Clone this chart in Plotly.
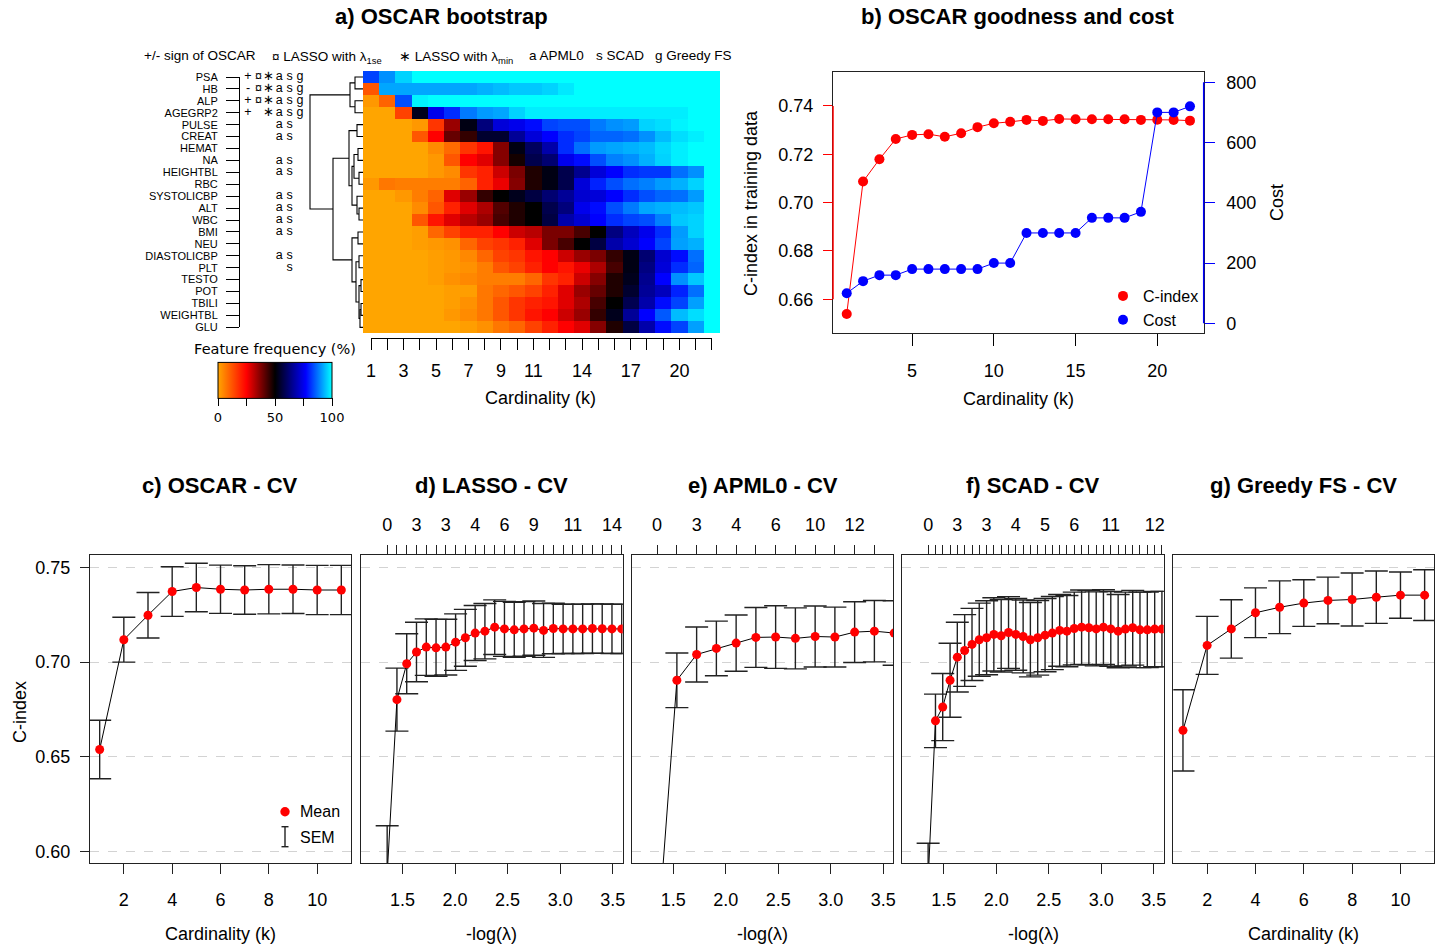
import plotly.graph_objects as go

W, H = 1442, 947
FONT = "Liberation Sans, Arial, Helvetica, sans-serif"

# ---------------- data: panel a ----------------
variables = ["PSA", "HB", "ALP", "AGEGRP2", "PULSE", "CREAT", "HEMAT", "NA",
             "HEIGHTBL", "RBC", "SYSTOLICBP", "ALT", "WBC", "BMI", "NEU",
             "DIASTOLICBP", "PLT", "TESTO", "POT", "TBILI", "WEIGHTBL", "GLU"]
cardinality = [1, 2, 3, 4, 5, 6, 7, 8, 9, 10, 11, 12, 13, 14, 15, 16, 17, 18, 19, 20, 21, 22]
heat_k_labels = ["1", "", "3", "", "5", "", "7", "", "9", "", "11", "", "", "14", "", "",
                 "17", "", "", "20", "", ""]

feature_freq = [
    [83, 90, 96, 100, 100, 100, 100, 100, 100, 100, 100, 100, 100, 100, 100, 100, 100, 100, 100, 100, 100, 100],
    [12, 92, 92, 92, 92, 92, 92, 93, 94, 95, 95, 96, 98, 100, 100, 100, 100, 100, 100, 100, 100, 100],
    [2, 10, 84, 99, 100, 100, 100, 100, 100, 100, 100, 100, 100, 100, 100, 100, 100, 100, 100, 100, 100, 100],
    [0, 0, 15, 53, 75, 81, 88, 91, 92, 96, 98.5, 98.5, 98.5, 98.5, 98.5, 98.5, 98.5, 98.5, 98.5, 98.5, 100, 100],
    [0, 0, 0, 2, 17, 35, 52, 63, 73, 75, 78, 83, 84, 84, 88, 90, 91, 96, 97, 99, 100, 100],
    [0, 0, 0, 12, 25, 40, 45, 55, 55, 66, 73, 77, 81, 83, 86, 86, 87, 90, 94, 97, 98.6, 100],
    [0, 0, 0, 0, 4, 9, 17, 22, 37, 52, 60, 68, 81, 87, 91, 92, 93, 94, 96.5, 98.6, 100, 100],
    [0, 0, 0, 0, 2, 12, 25, 28, 37, 48, 58, 62, 75, 78, 84, 88.5, 90, 93, 96, 98.6, 100, 100],
    [0, 0, 0, 0, 2, 4, 17, 20, 30, 38, 47, 52, 58, 65, 73, 77, 81, 82, 82, 87, 90, 100],
    [2, 7, 6, 6, 6, 6, 10, 20, 27, 37, 47, 52, 58, 73, 80, 84, 87, 88.5, 91, 93, 96, 100],
    [0, 0, 2, 6, 10, 28, 35, 45, 50, 53, 57, 62, 66, 72, 73, 77, 81, 84, 86, 87, 91, 100],
    [0, 0, 0, 4, 12, 20, 28, 33, 42, 47, 50, 58, 63, 75, 78, 84, 88, 92, 93, 94, 95, 100],
    [0, 0, 0, 12, 22, 28, 32, 35, 43, 47, 50, 57, 68, 72, 77, 81, 83, 84, 88.5, 95, 96, 100],
    [0, 0, 0, 1, 9.5, 15, 20, 20, 25, 30, 32, 38, 38, 43, 50, 63.5, 70, 75, 81, 91, 96, 100],
    [0, 0, 0, 1, 2, 3, 9.5, 15, 17, 20, 28, 38, 43, 50, 57, 68, 72, 77, 83, 91.4, 93, 100],
    [0, 0, 0, 0, 1, 2, 4.4, 9.5, 15, 17, 22, 25, 30, 35, 38, 45, 52, 62, 72, 78, 87, 100],
    [0, 0, 0, 0, 1, 2, 3, 6, 12, 15, 20, 25, 22, 27, 33, 43, 52, 63.5, 73, 81, 86, 100],
    [0, 0, 0, 0, 1, 3, 4.4, 6, 6, 6, 9.5, 17, 20, 30, 37, 47, 53, 65, 77, 90, 95, 100],
    [0, 0, 0, 0, 0, 1, 1, 7, 9.5, 12, 15, 20, 28, 35, 40, 47, 55, 66, 70, 80, 87, 100],
    [0, 0, 0, 0, 0, 1, 3, 7, 12, 17, 20, 22, 28, 33, 43, 50, 58.5, 68, 78, 83, 91.4, 100],
    [0, 0, 0, 0, 0, 2, 4, 7, 12, 17, 22, 25, 30, 35, 45, 53, 66, 77, 85, 94, 97, 100],
    [0, 0, 0, 0, 0, 0, 1, 3, 7, 9.5, 15, 20, 25, 28, 37, 47, 57, 68, 78, 83, 91.4, 100],
]

# hierarchical clustering of the rows (R hclust style: negative = leaf, positive = earlier merge)
dendro_merge = [(-1, -2), (-3, -4), (1, 2), (-5, -6), (-7, -8), (-9, -10), (5, 6),
                (-12, -13), (-11, 8), (7, 9), (4, 10), (-14, -15), (-16, -17),
                (-18, -19), (-20, -21), (15, -22), (14, 16), (13, 17), (12, 18),
                (11, 19), (3, 20)]
dendro_height = [8, 8, 13, 6, 5, 4, 9, 4, 6, 11, 14, 5, 4, 2, 2, 3, 4, 7, 11, 30, 53]

oscar_sign = {"PSA": "+", "HB": "-", "ALP": "+", "AGEGRP2": "+"}
lasso_1se = ["PSA", "HB", "ALP"]
lasso_min = ["PSA", "HB", "ALP", "AGEGRP2"]
apml0 = ["PSA", "HB", "ALP", "AGEGRP2", "PULSE", "CREAT", "NA", "HEIGHTBL",
         "SYSTOLICBP", "ALT", "WBC", "BMI", "DIASTOLICBP"]
scad = ["PSA", "HB", "ALP", "AGEGRP2", "PULSE", "CREAT", "NA", "HEIGHTBL",
        "SYSTOLICBP", "ALT", "WBC", "BMI", "DIASTOLICBP", "PLT"]
greedy_fs = ["PSA", "HB", "ALP", "AGEGRP2"]

# ---------------- data: panel b ----------------
b_cindex = [0.6539, 0.7087, 0.7179, 0.7263, 0.7280, 0.7283, 0.7272, 0.7287, 0.7312, 0.7328,
            0.7334, 0.7342, 0.7338, 0.7346, 0.7345, 0.7345, 0.7345, 0.7345, 0.7342, 0.7343,
            0.7342, 0.7339]
b_cost = [100, 140, 160, 160, 180, 180, 180, 180, 180, 200, 200, 300, 300, 300, 300,
          350, 350, 350, 370, 700, 700, 720]

# ---------------- data: panels c-g ----------------
c_k = [1, 2, 3, 4, 5, 6, 7, 8, 9, 10, 11]
c_mean = [0.6539, 0.7118, 0.7247, 0.7372, 0.7393, 0.7384, 0.7380, 0.7384, 0.7384, 0.7380, 0.7380]
c_sem = [0.0154, 0.0118, 0.0120, 0.0131, 0.0128, 0.0127, 0.0128, 0.0130, 0.0128, 0.0130, 0.0130]

d_lambda = [1.354, 1.447, 1.540, 1.633, 1.726, 1.819, 1.912, 2.005, 2.098, 2.191, 2.284,
            2.377, 2.470, 2.563, 2.656, 2.749, 2.842, 2.935, 3.028, 3.121, 3.214, 3.307,
            3.400, 3.493, 3.586]
d_mean = [0.588, 0.6802, 0.6991, 0.7053, 0.7079, 0.7075, 0.7079, 0.7105, 0.7128, 0.7153,
          0.7163, 0.7184, 0.7175, 0.7170, 0.7175, 0.7179, 0.7167, 0.7177, 0.7175, 0.7175,
          0.7175, 0.7177, 0.7176, 0.7175, 0.7175]
d_sem = [0.0257, 0.0166, 0.0158, 0.0157, 0.0149, 0.0150, 0.0147, 0.0149, 0.0150, 0.0145,
         0.0146, 0.0144, 0.0145, 0.0145, 0.0144, 0.0143, 0.0142, 0.0133, 0.0130, 0.0130,
         0.0130, 0.0130, 0.0130, 0.0130, 0.0130]
d_top_labels = ["0", "", "", "3", "", "", "3", "", "", "4", "", "", "6", "", "", "9",
                "", "", "", "11", "", "", "", "14", ""]

e_lambda = [1.347, 1.535, 1.723, 1.911, 2.099, 2.287, 2.475, 2.663, 2.851, 3.039, 3.227,
            3.415, 3.603]
e_mean = [0.551, 0.6904, 0.7040, 0.7072, 0.7100, 0.7130, 0.7132, 0.7125, 0.7135, 0.7132,
          0.7158, 0.7163, 0.7153]
e_sem = [0.035, 0.0144, 0.0145, 0.0144, 0.0148, 0.0158, 0.0165, 0.0161, 0.0161, 0.0158,
         0.0160, 0.0162, 0.0170]
e_top_labels = ["0", "", "3", "", "4", "", "6", "", "10", "", "12", "", ""]

f_lambda = [1.351, 1.421, 1.490, 1.560, 1.629, 1.699, 1.769, 1.838, 1.908, 1.977, 2.047,
            2.117, 2.186, 2.256, 2.325, 2.395, 2.465, 2.534, 2.604, 2.673, 2.743, 2.813,
            2.882, 2.952, 3.021, 3.091, 3.161, 3.230, 3.300, 3.369, 3.439, 3.509, 3.578]
f_mean = [0.585, 0.6690, 0.6763, 0.6904, 0.7026, 0.7061, 0.7093, 0.7118, 0.7128, 0.7146,
          0.7139, 0.7156, 0.7146, 0.7135, 0.7118, 0.7128, 0.7142, 0.7153, 0.7167, 0.7163,
          0.7177, 0.7184, 0.7181, 0.7175, 0.7184, 0.7175, 0.7163, 0.7174, 0.7181, 0.7170,
          0.7170, 0.7174, 0.7174]
f_sem = [0.0195, 0.0141, 0.0177, 0.0195, 0.0184, 0.0189, 0.0190, 0.0193, 0.0195, 0.0193,
         0.0191, 0.0189, 0.0189, 0.0192, 0.0196, 0.0197, 0.0193, 0.0193, 0.0189, 0.0188,
         0.0192, 0.0196, 0.0196, 0.0195, 0.0197, 0.0197, 0.0193, 0.0195, 0.0197, 0.0199,
         0.0199, 0.0199, 0.0199]
f_top_labels = ["0", "", "", "", "3", "", "", "", "3", "", "", "", "4", "", "", "", "5",
                "", "", "", "6", "", "", "", "", "11", "", "", "", "", "", "12", ""]

g_k = [1, 2, 3, 4, 5, 6, 7, 8, 9, 10, 11]
g_mean = [0.6640, 0.7088, 0.7175, 0.7260, 0.7289, 0.7311, 0.7325, 0.7330, 0.7342, 0.7353, 0.7353]
g_sem = [0.0214, 0.0153, 0.0154, 0.0131, 0.0139, 0.0123, 0.0123, 0.0140, 0.0138, 0.0122, 0.0134]

cv_yticks = [0.60, 0.65, 0.70, 0.75]
lambda_ticks = [1.5, 2.0, 2.5, 3.0, 3.5]
k_ticks_cv = [2, 4, 6, 8, 10]

# ---------------- helpers ----------------
def dx(a, b):
    return [a / W, b / W]

def dy(top, bottom):
    return [1 - bottom / H, 1 - top / H]

def px(x):
    return x / W

def py(y):
    return 1 - y / H

HID = dict(visible=False, showgrid=False, zeroline=False, fixedrange=True)

def ann(text, x, y, size=18, xanchor="center", angle=0, bold=False, family=FONT):
    return dict(text=("<b>%s</b>" % text) if bold else text, x=px(x), y=py(y),
                xref="paper", yref="paper", showarrow=False, xanchor=xanchor,
                yanchor="middle", textangle=angle, font=dict(size=size, color="black", family=family))

fig = go.Figure()

# ---------------- panel a: heatmap ----------------
colorscale = [[0.0, "#FFA500"], [0.25, "#FF0000"], [0.5, "#000000"], [0.77, "#0000FF"], [1.0, "#00FFFF"]]
fig.add_trace(go.Heatmap(
    z=feature_freq, x=cardinality, y=list(range(len(variables))),
    colorscale=colorscale, zmin=0, zmax=100, xaxis="x", yaxis="y", hoverinfo="skip",
    colorbar=dict(orientation="h", x=px(275), xanchor="center", y=py(426), yanchor="bottom",
                  len=114, lenmode="pixels", thickness=36, thicknessmode="pixels",
                  outlinewidth=1, outlinecolor="black", xpad=0, ypad=0,
                  ticks="outside", ticklen=8, tickcolor="black",
                  tickvals=[0, 25, 50, 75, 100], ticktext=["0", "", "50", "", "100"],
                  tickfont=dict(size=13, family="DejaVu Sans", color="black"),
                  title=dict(text="Feature frequency (%)", side="top",
                             font=dict(size=14.5, family="DejaVu Sans", color="black"))),
))
# carrier for the separate cardinality axis under the heatmap
fig.add_trace(go.Scatter(x=cardinality, y=[0.5 for _ in cardinality], mode="markers",
                         xaxis="x2", yaxis="y2", marker=dict(opacity=0, size=1),
                         hoverinfo="skip", showlegend=False))

# dendrogram computed from merge table
pos, hgt = {}, {}
dxs, dys = [], []
for i, ((a, b), h) in enumerate(zip(dendro_merge, dendro_height), start=1):
    def get(c):
        return (-c - 1, 0.0) if c < 0 else (pos[c], hgt[c])
    ya, ha = get(a)
    yb, hb = get(b)
    dxs += [ha, h, h, hb, None]
    dys += [ya, ya, yb, yb, None]
    pos[i] = (ya + yb) / 2.0
    hgt[i] = h
fig.add_trace(go.Scatter(x=dxs, y=dys, mode="lines", line=dict(color="black", width=1.1),
                         xaxis="x3", yaxis="y3", hoverinfo="skip", showlegend=False))

# method selection symbols
sym_x, sym_y, sym_t = [], [], []
for i, v in enumerate(variables):
    cols = [oscar_sign.get(v, ""), "¤" if v in lasso_1se else "", "∗" if v in lasso_min else "",
            "a" if v in apml0 else "", "s" if v in scad else "", "g" if v in greedy_fs else ""]
    for j, s in enumerate(cols):
        if s:
            sym_x.append(j)
            sym_y.append(i)
            sym_t.append(s)
fig.add_trace(go.Scatter(x=sym_x, y=sym_y, text=sym_t, mode="text", xaxis="x4", yaxis="y4",
                         textfont=dict(size=12.5, color="black", family=FONT), cliponaxis=False,
                         hoverinfo="skip", showlegend=False))

# ---------------- panel b ----------------
fig.add_trace(go.Scatter(x=cardinality, y=b_cindex, mode="lines+markers", xaxis="x5", yaxis="y5",
                         line=dict(color="red", width=1), marker=dict(color="red", size=10),
                         showlegend=False, hoverinfo="skip"))
fig.add_trace(go.Scatter(x=cardinality, y=b_cost, mode="lines+markers", xaxis="x5", yaxis="y6",
                         line=dict(color="blue", width=1), marker=dict(color="blue", size=10),
                         showlegend=False, hoverinfo="skip"))
fig.add_trace(go.Scatter(x=[None], y=[None], mode="markers", name="C-index", xaxis="x5", yaxis="y5",
                         marker=dict(color="red", size=10), showlegend=True))
fig.add_trace(go.Scatter(x=[None], y=[None], mode="markers", name="Cost", xaxis="x5", yaxis="y5",
                         marker=dict(color="blue", size=10), showlegend=True))

# ---------------- panels c-g ----------------
def cv_trace(x, mean, sem, xa, ya):
    return go.Scatter(x=x, y=mean, mode="lines+markers", xaxis=xa, yaxis=ya,
                      line=dict(color="black", width=1),
                      marker=dict(color="red", size=9),
                      error_y=dict(type="data", array=sem, visible=True, color="#222222",
                                   thickness=1.4, width=11.5),
                      showlegend=False, hoverinfo="skip", cliponaxis=True)

fig.add_trace(cv_trace(c_k, c_mean, c_sem, "x6", "y7"))
fig.add_trace(cv_trace(d_lambda, d_mean, d_sem, "x7", "y8"))
fig.add_trace(cv_trace(e_lambda, e_mean, e_sem, "x8", "y9"))
fig.add_trace(cv_trace(f_lambda, f_mean, f_sem, "x9", "y10"))
fig.add_trace(cv_trace(g_k, g_mean, g_sem, "x10", "y11"))
# invisible carriers for the top (number of selected variables) axes
for lam, mean, xa, ya in [(d_lambda, d_mean, "x11", "y8"), (e_lambda, e_mean, "x12", "y9"),
                          (f_lambda, f_mean, "x13", "y10")]:
    fig.add_trace(go.Scatter(x=lam, y=mean, mode="markers", xaxis=xa, yaxis=ya,
                             marker=dict(opacity=0, size=1), hoverinfo="skip", showlegend=False))

# ---------------- layout ----------------
TF = dict(size=18, color="black", family=FONT)
LBOX = dict(showline=True, mirror=True, linecolor="#222222", linewidth=1)

layout = dict(
    width=W, height=H, autosize=False, template="none",
    margin=dict(l=0, r=0, t=0, b=0, pad=0),
    paper_bgcolor="white", plot_bgcolor="rgba(0,0,0,0)",
    font=dict(family=FONT, size=14, color="black"),
    showlegend=True,
    legend=dict(x=px(1103), y=py(279), xanchor="left", yanchor="top",
                bgcolor="rgba(0,0,0,0)", font=dict(size=16, color="black", family=FONT),
                itemwidth=30, tracegroupgap=0),
    # heatmap
    xaxis=dict(domain=dx(363, 720), range=[0.5, 22.5], anchor="y", **HID),
    yaxis=dict(domain=dy(71, 333.3), range=[21.5, -0.5], anchor="x", **HID),
    xaxis2=dict(domain=dx(371.1, 711.9), range=[1, 22], anchor="y2", showline=True,
                linecolor="black", linewidth=1, ticks="outside", ticklen=11, tickcolor="black",
                tickvals=cardinality, ticktext=heat_k_labels, tickfont=TF, ticklabelstandoff=5,
                showgrid=False, zeroline=False, automargin=False, fixedrange=True),
    yaxis2=dict(domain=dy(334.5, 338.3), range=[0, 1], anchor="x2", **HID),
    # dendrogram
    xaxis3=dict(domain=dx(305, 363), range=[58, 0], anchor="y3", **HID),
    yaxis3=dict(domain=dy(71, 333.3), range=[21.5, -0.5], anchor="x3", **HID),
    # row labels & symbols
    xaxis4=dict(domain=dx(240, 305), range=[-0.77, 5.48], anchor="y4", **HID),
    yaxis4=dict(domain=dy(77, 327.3), range=[21, 0], anchor="x4", showline=True,
                linecolor="black", linewidth=1, ticks="outside", ticklen=13, tickcolor="black",
                tickvals=list(range(len(variables))), ticktext=variables,
                tickfont=dict(size=11, color="black", family=FONT), ticklabelstandoff=6,
                showgrid=False, zeroline=False, automargin=False),
    # panel b
    xaxis5=dict(domain=dx(833, 1203.7), range=[0.16, 22.84], anchor="y5", ticks="outside",
                ticklen=12, tickcolor="black", tickvals=[5, 10, 15, 20], tickfont=TF,
                ticklabelstandoff=9, showgrid=False, zeroline=False, automargin=False, **LBOX),
    yaxis5=dict(domain=dy(72.3, 333.3), range=[0.6459, 0.7539], anchor="x5", ticks="outside",
                ticklen=9, tickcolor="red", tickwidth=1.3, tickvals=[0.66, 0.68, 0.70, 0.72, 0.74],
                ticktext=["0.66", "0.68", "0.70", "0.72", "0.74"], tickfont=TF,
                ticklabelstandoff=6, showgrid=False, zeroline=False, automargin=False, **LBOX),
    yaxis6=dict(overlaying="y5", side="right", anchor="x5", range=[-33, 833], ticks="outside",
                ticklen=10, tickcolor="blue", tickwidth=1.3, tickvals=[0, 200, 400, 600, 800],
                tickfont=TF, ticklabelstandoff=8, showgrid=False, zeroline=False,
                showline=False, automargin=False),
)

panel_x = {"c": (90, 351), "d": (361, 622.7), "e": (631.7, 893.3), "f": (902.3, 1163.7), "g": (1173.3, 1434.3)}
cv_yrange = [0.5939, 0.7563]
cv_ydom = dy(555.3, 863.3)
lam_range = [1.105, 3.595]
k_range = [0.6, 11.4]
names = ["c", "d", "e", "f", "g"]
for key, xi, yi in zip(names, range(6, 11), range(7, 12)):
    xa = dict(domain=dx(*panel_x[key]), anchor="y%d" % yi, ticks="outside", ticklen=10,
              tickcolor="#222222", tickfont=TF, ticklabelstandoff=10, showgrid=False,
              zeroline=False, automargin=False, **LBOX)
    if key in ("c", "g"):
        xa.update(range=k_range, tickvals=k_ticks_cv)
    else:
        xa.update(range=lam_range, tickvals=lambda_ticks,
                  ticktext=["%.1f" % t for t in lambda_ticks])
    ya = dict(domain=cv_ydom, anchor="x%d" % xi, range=cv_yrange, tickvals=cv_yticks,
              showgrid=True, gridcolor="#D3D3D3", griddash="dash", gridwidth=1,
              zeroline=False, automargin=False, **LBOX)
    if key == "c":
        ya.update(ticks="outside", ticklen=9, tickcolor="#222222", tickfont=TF,
                  ticktext=["%.2f" % t for t in cv_yticks], ticklabelstandoff=6)
    else:
        ya.update(ticks="", showticklabels=False)
    layout["xaxis%d" % xi] = xa
    layout["yaxis%d" % yi] = ya

for xi, base, yi, lam, labels in [(11, "x7", "y8", d_lambda, d_top_labels),
                                  (12, "x8", "y9", e_lambda, e_top_labels),
                                  (13, "x9", "y10", f_lambda, f_top_labels)]:
    layout["xaxis%d" % xi] = dict(overlaying=base, side="top", anchor=yi, range=lam_range,
                                  tickvals=lam, ticktext=labels, ticks="outside", ticklen=9,
                                  tickcolor="#222222", tickfont=TF, ticklabelstandoff=7,
                                  showline=False, showgrid=False, zeroline=False, automargin=False)

shapes = [
    dict(type="line", xref="x5 domain", x0=0, x1=0, yref="y5", y0=0.66, y1=0.74,
         line=dict(color="red", width=1.5)),
    dict(type="line", xref="x5 domain", x0=1, x1=1, yref="y6", y0=0, y1=800,
         line=dict(color="blue", width=1.5)),
    # SEM legend key in panel c
    dict(type="line", xref="paper", yref="paper", x0=px(285), x1=px(285), y0=py(826.7), y1=py(846.7),
         line=dict(color="#222222", width=1.4)),
    dict(type="line", xref="paper", yref="paper", x0=px(281.5), x1=px(288.5), y0=py(826.7), y1=py(826.7),
         line=dict(color="#222222", width=1.4)),
    dict(type="line", xref="paper", yref="paper", x0=px(281.5), x1=px(288.5), y0=py(846.7), y1=py(846.7),
         line=dict(color="#222222", width=1.4)),
    dict(type="circle", xref="paper", yref="paper", xsizemode="pixel", ysizemode="pixel",
         xanchor=px(285), yanchor=py(811.7), x0=-4.7, x1=4.7, y0=-4.7, y1=4.7,
         fillcolor="red", line=dict(width=0)),
]

annotations = [
    ann("a) OSCAR bootstrap", 442, 17, 22, bold=True),
    ann("b) OSCAR goodness and cost", 1018, 17, 22, bold=True),
    ann("c) OSCAR - CV", 220.5, 485, 22, bold=True),
    ann("d) LASSO - CV", 491.8, 485, 22, bold=True),
    ann("e) APML0 - CV", 762.5, 485, 22, bold=True),
    ann("f) SCAD - CV", 1033, 485, 22, bold=True),
    ann("g) Greedy FS - CV", 1303.8, 485, 22, bold=True),
    ann("+/- sign of OSCAR", 142, 56, 13.5, xanchor="left"),
    ann("¤ LASSO with λ<sub>1se</sub>", 270, 57, 13.5, xanchor="left"),
    ann("∗ LASSO with λ<sub>min</sub>", 397, 57, 13.5, xanchor="left"),
    ann("a APML0", 527, 56, 13.5, xanchor="left"),
    ann("s SCAD", 594, 56, 13.5, xanchor="left"),
    ann("g Greedy FS", 653, 56, 13.5, xanchor="left"),
    ann("Cardinality (k)", 540, 398, 18),
    ann("Cardinality (k)", 1018, 399, 18),
    ann("C-index in training data", 751, 203, 18, angle=-90),
    ann("Cost", 1277, 203, 18, angle=-90),
    ann("C-index", 20, 712, 18, angle=-90),
    ann("Cardinality (k)", 220.5, 934, 18),
    ann("-log(λ)", 491.8, 934, 18),
    ann("-log(λ)", 762.5, 934, 18),
    ann("-log(λ)", 1033, 934, 18),
    ann("Cardinality (k)", 1303.8, 934, 18),
    ann("Mean", 298, 811.7, 16, xanchor="left"),
    ann("SEM", 298, 837, 16, xanchor="left"),
]
layout["shapes"] = shapes
layout["annotations"] = annotations
fig.update_layout(**layout)

fig.write_html("out.html")
